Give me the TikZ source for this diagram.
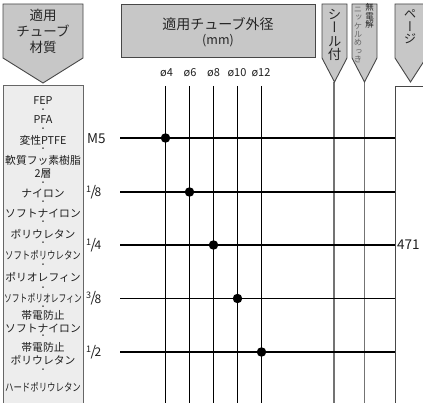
\documentclass[tikz,border=0pt]{standalone}
\usepackage{fontspec}
\usepackage{graphicx}
\setmainfont{Noto Sans CJK JP}
\newfontfamily\vjp[RawFeature=+vert]{Noto Sans CJK JP}
\newcommand\fsz[1]{\fontsize{#1}{#1}\selectfont}
\newcommand\frc[2]{\raisebox{4pt}{\fsz{9}#1}\kern-0.5pt{\fsz{14}/}\kern-1.5pt\raisebox{-0.5pt}{\fsz{12}#2}}
\begin{document}
\begin{tikzpicture}[x=1pt,y=-1pt,
  hdr/.style={draw=black!72,fill=black!22,line width=0.9pt,line join=miter},
  lbox/.style={draw=black!60,fill=black!7,line width=0.9pt},
  pbox/.style={draw=black!72,fill=white,line width=0.9pt},
  grid/.style={draw=black,line width=0.8pt},
  row/.style={draw=black,line width=1.3pt},
  glin/.style={draw=black!55,line width=1.1pt},
  dotm/.style={circle,fill=black,inner sep=0pt,minimum size=9.5pt},
  txt/.style={inner sep=0pt,text=black!88},
  mat/.style={txt,font=\fsz{10.8}},
  sep/.style={txt,font=\fsz{7.5}},
  lab/.style={txt,font=\fsz{13.5},anchor=west},
  dia/.style={txt,font=\fsz{11}},
  vtx/.style={txt,align=center}
]
\useasboundingbox (0,0) rectangle (423,403);
\fill[white] (0,0) rectangle (423,403);

% left material box
\draw[lbox] (3,85) rectangle (83,406);
% page box
\draw[pbox] (395,86) rectangle (430,406);

% vertical grid lines
\foreach \i/\x in {1/165.5,2/189.5,3/213.5,4/237.5,5/261.5}{
  \coordinate (vt\i) at (\x,86);
  \coordinate (vb\i) at (\x,405);
  \draw[grid] (vt\i) -- (vb\i);
}
% seal / plating lines
\coordinate (st) at (334,82); \coordinate (sb) at (334,405);
\coordinate (et) at (364.5,82); \coordinate (eb) at (364.5,405);
\draw[glin] (st) -- (sb);
\draw[glin] (et) -- (eb);

% horizontal rows
\foreach \i/\y in {1/138,2/192,3/245,4/298.5,5/352}{
  \coordinate (hl\i) at (120,\y);
  \coordinate (hr\i) at (395,\y);
  \draw[row] (hl\i) -- (hr\i);
}

% headers
\draw[hdr] (3,4) -- (83,4) -- (83,58) -- (43,83) -- (3,58) -- cycle;
\draw[hdr] (121,4) rectangle (315,57);
\draw[hdr] (322,4) -- (347,4) -- (347,58) -- (334.5,82) -- (322,58) -- cycle;
\draw[hdr] (352,4) -- (377,4) -- (377,58) -- (364.5,82) -- (352,58) -- cycle;
\draw[hdr] (395,4) -- (426,4) -- (426,58) -- (410.5,82) -- (395,58) -- cycle;

\node[txt,align=center,font=\fsz{13.5},text=black!85] (hmat) at (43,31)
  {適用\\[2.5pt]チューブ\\[2.5pt]材質};
\node[txt,font=\fsz{14},text=black!85] (hdia) at (218,24) {適用チューブ外径};
\node[txt,font=\fsz{12.5},text=black!85] (hmm) at (218,41) {(mm)};
\node[vtx,font=\vjp\fsz{13.5},text=black!85] (hseal) at (334.5,35)
  {シ\\ー\\ル\\付};
\node[vtx,font=\vjp\fsz{8.5},text=black!85] (hel1) at (369.5,16)
  {無\\電\\解};
\node[vtx,font=\vjp\fsz{8.3},text=black!60] (hel2) at (358,35)
  {ニ\\ッ\\ケ\\ル\\め\\っ\\き};
\node[vtx,font=\vjp\fsz{12.5},text=black!85] (hpg) at (410,27)
  {ペ\\ー\\ジ};

% diameter labels
\node[dia] (d1) at (166.5,73) {ø4};
\node[dia] (d2) at (190,73) {ø6};
\node[dia] (d3) at (213.5,73) {ø8};
\node[dia] (d4) at (237,73) {ø10};
\node[dia] (d5) at (261,73) {ø12};

% row labels
\node[lab] (r1) at (87,138.5) {M5};
\node[lab] (r2) at (86,192) {\frc{1}{8}};
\node[lab] (r3) at (86,245) {\frc{1}{4}};
\node[lab] (r4) at (86,298.5) {\frc{3}{8}};
\node[lab] (r5) at (86,352) {\frc{1}{2}};
\node[lab] (n471) at (397,245) {471};

% dots
\node[dotm] (c1) at (165.5,138) {};
\node[dotm] (c2) at (189.5,192) {};
\node[dotm] (c3) at (213.5,245) {};
\node[dotm] (c4) at (237.5,298.5) {};
\node[dotm] (c5) at (261.5,352) {};

% material list
\node[mat] (m1) at (43,101) {FEP};
\node[sep] (s1) at (43,111) {・};
\node[mat] (m2) at (43,120) {PFA};
\node[sep] (s2) at (43,130) {・};
\node[mat] (m3) at (43,140) {変性PTFE};
\node[sep] (s3) at (43,149.5) {・};
\node[mat] (m4) at (43,160) {軟質フッ素樹脂};
\node[mat] (m4b) at (43,173.5) {2層};
\node[sep] (s4) at (43,183.5) {・};
\node[mat] (m5) at (43,193) {ナイロン};
\node[sep] (s5) at (43,203) {・};
\node[mat] (m6) at (43,213) {ソフトナイロン};
\node[sep] (s6) at (43,223) {・};
\node[mat] (m7) at (43,234) {ポリウレタン};
\node[sep] (s7) at (43,244) {・};
\node[mat] (m8) at (43,255) {\scalebox{0.78}[1]{ソフトポリウレタン}};
\node[sep] (s8) at (43,266) {・};
\node[mat] (m9) at (43,277.5) {ポリオレフィン};
\node[sep] (s9) at (43,289) {・};
\node[mat] (m10) at (43,298.5) {\scalebox{0.72}[1]{ソフトポリオレフィン}};
\node[sep] (s10) at (43,307.5) {・};
\node[mat] (m11) at (43,315.5) {帯電防止};
\node[mat] (m11b) at (43,328) {ソフトナイロン};
\node[sep] (s11) at (43,337) {・};
\node[mat] (m12) at (43,347) {帯電防止};
\node[mat] (m12b) at (43,360.5) {ポリウレタン};
\node[sep] (s12) at (43,371) {・};
\node[mat] (m13) at (43,387) {\scalebox{0.78}[1]{ハードポリウレタン}};
\end{tikzpicture}
\end{document}
